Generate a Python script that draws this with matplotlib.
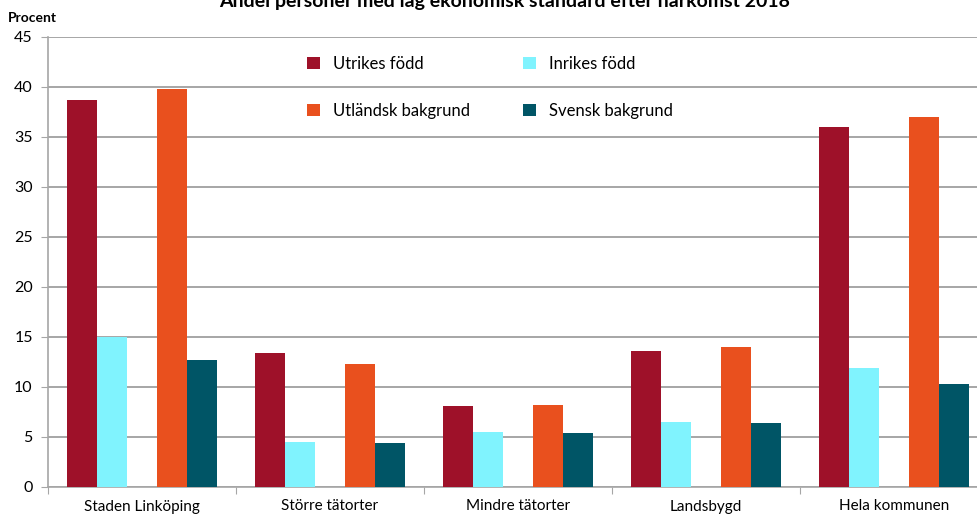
import matplotlib
matplotlib.use("Agg")
import matplotlib.pyplot as plt
import numpy as np
from matplotlib.patches import Patch

plt.rcParams['font.family'] = ['Lato', 'DejaVu Sans']

categories = ["Staden Linköping", "Större tätorter", "Mindre tätorter", "Landsbygd", "Hela kommunen"]
series_names = ["Utrikes född", "Inrikes född", "Utländsk bakgrund", "Svensk bakgrund"]
utrikes = [38.7, 13.4, 8.1, 13.6, 36.0]
inrikes = [15.0, 4.5, 5.5, 6.5, 11.9]
utlandsk = [39.8, 12.3, 8.2, 14.0, 37.0]
svensk = [12.7, 4.4, 5.4, 6.4, 10.3]
colors = ["#9E1129", "#80F3FE", "#E9501E", "#005566"]
yticks = [0, 5, 10, 15, 20, 25, 30, 35, 40, 45]

fig = plt.figure(figsize=(9.77, 5.16), dpi=100)
ax = fig.add_axes([48/977, 29/516, 940/977, 450/516])

x = np.arange(len(categories))
slot = 0.159
offsets = [-2, -1, 1, 2]
for vals, off, c in zip([utrikes, inrikes, utlandsk, svensk], offsets, colors):
    ax.bar(x + off*slot, vals, width=slot, color=c, zorder=3, edgecolor='none')

ax.set_xlim(-0.5, len(categories)-0.5)
ax.set_ylim(0, 45)
ax.set_yticks(yticks)
ax.set_yticklabels([str(t) for t in yticks], fontsize=11.5)
ax.yaxis.grid(True, color="#A6A6A6", linewidth=1.4, zorder=0)
ax.set_axisbelow(True)
for s in ['top', 'right']:
    ax.spines[s].set_visible(False)
ax.spines['left'].set_color("#A6A6A6")
ax.spines['bottom'].set_color("#A6A6A6")
ax.spines['left'].set_linewidth(1.2)
ax.spines['bottom'].set_linewidth(1.2)
ax.tick_params(axis='y', length=5, color="#A6A6A6", pad=6)
ax.set_xticks(np.arange(len(categories)+1) - 0.5, minor=False)
ax.set_xticklabels([])
ax.tick_params(axis='x', length=5, color="#A6A6A6")
ax.set_xticks(x, minor=True)
ax.set_xticklabels(categories, minor=True, fontsize=11)
ax.tick_params(axis='x', which='minor', length=0, pad=9)

fig.text(8/977, 1-18/516, "Procent", fontsize=10, fontweight='bold', va='center', ha='left')
fig.text(505/977, 1-1/516, "Andel personer med låg ekonomisk standard efter härkomst 2018",
         fontsize=14, fontweight='bold', ha='center', va='center')

handles = [Patch(facecolor=c, edgecolor='none') for c in colors]
order = [0, 2, 1, 3]
leg = fig.legend([handles[i] for i in order], [series_names[i] for i in order],
                 loc='upper left', bbox_to_anchor=(292/977, 1-41/516),
                 ncol=2, frameon=False, fontsize=12, handlelength=0.75, handleheight=0.75,
                 handletextpad=0.8, labelspacing=1.85, columnspacing=3.2)

fig.savefig("out.png", dpi=100)
